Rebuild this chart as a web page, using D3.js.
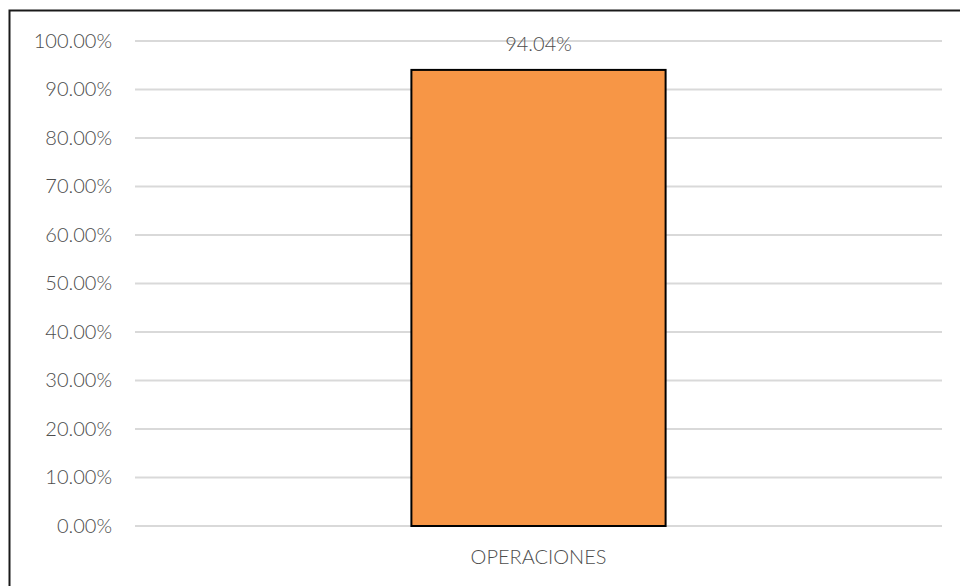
<!DOCTYPE html>
<html lang="es">
<head>
<meta charset="UTF-8">
<title>Operaciones</title>
<script src="https://d3js.org/d3.v7.min.js"></script>
<style>
    body { margin: 0; background: #fff; }
    svg text { font-family: Lato, "Open Sans", sans-serif; fill: #4d4d4d; font-weight: 300; }
    .grid line { stroke: #d9d9d9; stroke-width: 2px; }
</style>
</head>
<body>
<svg width="960" height="586"></svg>
<script>
    const categories = ["OPERACIONES"];
    const values = [0.9404];
    const yTicks = [0, 0.1, 0.2, 0.3, 0.4, 0.5, 0.6, 0.7, 0.8, 0.9, 1.0];

    const svg = d3.select("svg");
    const margin = { top: 41, right: 18, bottom: 60, left: 135 };
    const width = 960, height = 586;

    // chart frame (only left/top edges visible in the crop)
    svg.append("rect")
        .attr("x", 9.5).attr("y", 10.5)
        .attr("width", 1000).attr("height", 1000)
        .attr("fill", "none")
        .attr("stroke", "#1a1a1a")
        .attr("stroke-width", 2);

    const x = d3.scaleBand()
        .domain(categories)
        .range([margin.left, width - margin.right])
        .paddingInner(0.685)
        .paddingOuter(0.3425);

    const y = d3.scaleLinear()
        .domain([0, 1])
        .range([height - margin.bottom, margin.top]);

    // gridlines
    svg.append("g")
        .attr("class", "grid")
        .selectAll("line")
        .data(yTicks)
        .enter()
        .append("line")
        .attr("x1", margin.left)
        .attr("x2", width - margin.right)
        .attr("y1", d => y(d))
        .attr("y2", d => y(d));

    // y axis labels
    const yAxis = svg.append("g")
        .attr("transform", `translate(${margin.left - 23},0)`)
        .call(d3.axisLeft(y).tickValues(yTicks).tickSize(0).tickPadding(0)
            .tickFormat(d => (d * 100).toFixed(2) + "%"));
    yAxis.select(".domain").remove();
    yAxis.selectAll("text").attr("font-size", 20).attr("fill", "#4d4d4d");

    // bars
    svg.selectAll(".bar")
        .data(values)
        .enter()
        .append("rect")
        .attr("class", "bar")
        .attr("x", (d, i) => x(categories[i]))
        .attr("y", d => y(d))
        .attr("width", x.bandwidth())
        .attr("height", d => y(0) - y(d))
        .attr("fill", "#f79646")
        .attr("stroke", "#000")
        .attr("stroke-width", 2);

    // value labels
    svg.selectAll(".val")
        .data(values)
        .enter()
        .append("text")
        .attr("x", (d, i) => x(categories[i]) + x.bandwidth() / 2)
        .attr("y", d => y(d) - 19)
        .attr("text-anchor", "middle")
        .attr("font-size", 20)
        .text(d => (d * 100).toFixed(2) + "%");

    // category axis
    const xAxis = svg.append("g")
        .attr("transform", `translate(0,${height - margin.bottom})`)
        .call(d3.axisBottom(x).tickSize(0).tickPadding(24));
    xAxis.select(".domain").remove();
    xAxis.selectAll("text").attr("font-size", 20).attr("fill", "#4d4d4d");
</script>
</body>
</html>
